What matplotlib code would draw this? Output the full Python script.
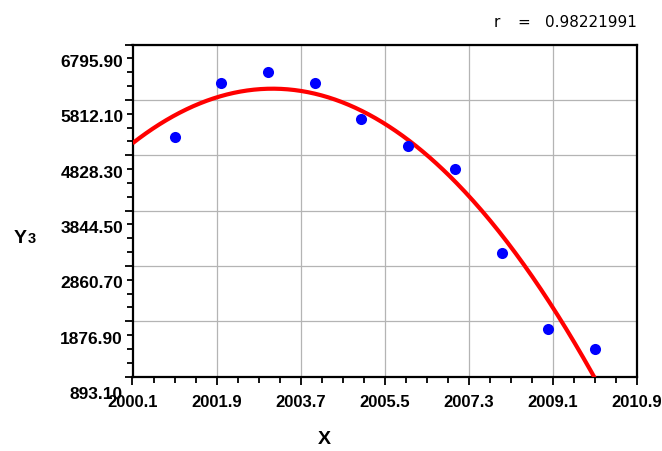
import numpy as np
import matplotlib
matplotlib.use("Agg")
import matplotlib.pyplot as plt
from matplotlib.ticker import MultipleLocator, FixedLocator

# data
years = [2001, 2002, 2003, 2004, 2005, 2006, 2007, 2008, 2009, 2010]
y3 = [5146, 6117, 6302, 6117, 5477, 4991, 4588, 3094, 1738, 1377]

x_ticks = [2000.1, 2001.9, 2003.7, 2005.5, 2007.3, 2009.1, 2010.9]
y_ticks = [893.1, 1876.9, 2860.7, 3844.5, 4828.3, 5812.1, 6795.9]
r_text = "0.98221991"

plt.rcParams['font.family'] = ['Liberation Sans', 'DejaVu Sans']

fig = plt.figure(figsize=(6.62, 4.51), dpi=100)
ax = fig.add_axes([132.5 / 662, 74.5 / 451, 504.5 / 662, 332 / 451])

# quadratic fit of the points
coef = np.polyfit(years, y3, 2)
xs = np.linspace(x_ticks[0], x_ticks[-1], 300)
ax.plot(xs, np.polyval(coef, xs), color='#ff0000', lw=3, zorder=3, solid_capstyle='butt')
ax.plot(years, y3, 'o', color='#0000ff', ms=8, mec='none', zorder=4)

ax.set_xlim(x_ticks[0], x_ticks[-1])
ax.set_ylim(y_ticks[0], y_ticks[-1])
ax.xaxis.set_major_locator(FixedLocator(x_ticks))
ax.yaxis.set_major_locator(FixedLocator(y_ticks))
xstep = (x_ticks[1] - x_ticks[0]) / 4
ystep = (y_ticks[1] - y_ticks[0]) / 4
ax.xaxis.set_minor_locator(MultipleLocator(xstep, offset=x_ticks[0] % xstep))
ax.yaxis.set_minor_locator(MultipleLocator(ystep, offset=y_ticks[0] % ystep))
ax.set_xticklabels([f"{v:.1f}" for v in x_ticks], fontsize=12, fontweight='bold')
ax.set_yticklabels([])

ax.grid(True, which='major', color='#b4b4b4', lw=0.9)
for s in ax.spines.values():
    s.set_linewidth(1.6)
ax.tick_params(which='major', length=6, width=1.3, direction='out', pad=7)
ax.tick_params(which='minor', length=4, width=1.3, direction='out')

# y labels sit a bit below their ticks, like the original
for v in y_ticks:
    ax.annotate(f"{v:.2f}", xy=(0, v), xycoords=ax.get_yaxis_transform(),
                xytext=(-6.8, -13), textcoords='offset points',
                ha='right', va='center', fontsize=12.5, fontweight='bold',
                annotation_clip=False)

fig.text(324 / 662, 1 - 439 / 451, "X", ha='center', va='center',
         fontsize=14, fontweight='bold')
fig.text(27 / 662, 1 - 243 / 451, "Y", ha='right', va='baseline',
         fontsize=14, fontweight='bold')
fig.text(27.5 / 662, 1 - 243 / 451, "3", ha='left', va='baseline',
         fontsize=10.5, fontweight='bold')

fig.text(497.3 / 662, 1 - 27 / 451, "r", ha='center', va='baseline',
         fontsize=11, family='DejaVu Sans')
fig.text(524 / 662, 1 - 27 / 451, "=", ha='center', va='baseline',
         fontsize=11, family='DejaVu Sans')
fig.text(545 / 662, 1 - 27 / 451, r_text, ha='left', va='baseline',
         fontsize=11, family='DejaVu Sans')

fig.savefig("out.png", dpi=100)
